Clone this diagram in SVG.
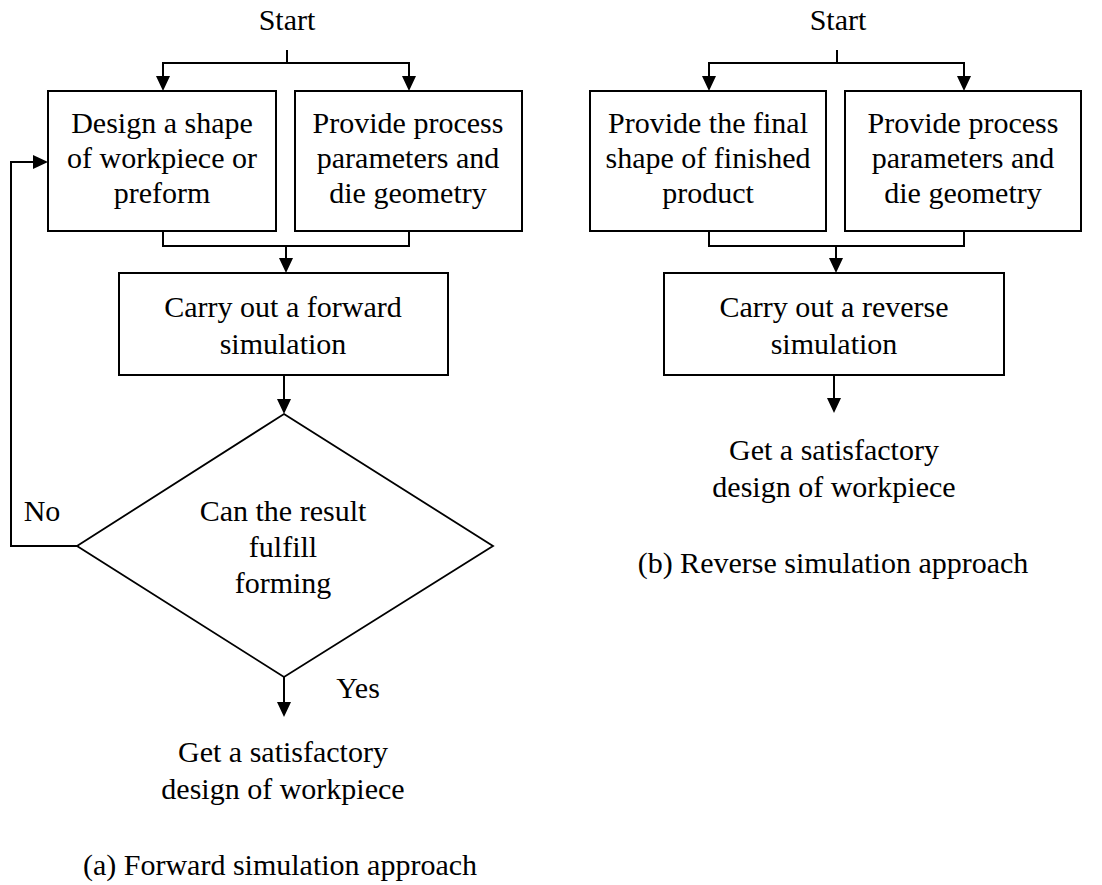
<svg xmlns="http://www.w3.org/2000/svg" width="1102" height="885" viewBox="0 0 1102 885">
  <style>
    .box { fill: #fff; stroke: #000; stroke-width: 2; }
    .dia { fill: #fff; stroke: #000; stroke-width: 1.8; }
    .wire { fill: none; stroke: #000; stroke-width: 2; }
    .tip { fill: #000; }
  </style>
  <defs>
    <!-- downward arrowhead, tip at the origin -->
    <path id="ah" d="M-7,-15 L7,-15 L0,0 Z"/>
  </defs>
  <rect width="1102" height="885" fill="#fff"/>

  <!-- connectors -->
  <g id="connectors">
    <!-- (a) forward approach -->
    <line class="wire" x1="287" y1="50" x2="287" y2="63"/>
    <polyline class="wire" points="163,80 163,63 409,63 409,80"/>
    <use class="tip" href="#ah" x="163" y="91"/>
    <use class="tip" href="#ah" x="409" y="91"/>
    <polyline class="wire" points="163,231 163,246 409,246 409,231"/>
    <line class="wire" x1="286" y1="246" x2="286" y2="262"/>
    <use class="tip" href="#ah" x="286" y="273"/>
    <line class="wire" x1="284" y1="375" x2="284" y2="403"/>
    <use class="tip" href="#ah" x="284" y="414"/>
    <line class="wire" x1="284" y1="677" x2="284" y2="706"/>
    <use class="tip" href="#ah" x="284" y="717"/>
    <polyline class="wire" points="77,546 11,546 11,162 37,162"/>
    <use class="tip" href="#ah" transform="translate(48,162) rotate(-90)"/>
    <!-- (b) reverse approach -->
    <line class="wire" x1="837" y1="50" x2="837" y2="63"/>
    <polyline class="wire" points="709,80 709,63 964,63 964,80"/>
    <use class="tip" href="#ah" x="709" y="91"/>
    <use class="tip" href="#ah" x="964" y="91"/>
    <polyline class="wire" points="709,231 709,246 964,246 964,231"/>
    <line class="wire" x1="836" y1="246" x2="836" y2="262"/>
    <use class="tip" href="#ah" x="836" y="273"/>
    <line class="wire" x1="834" y1="375" x2="834" y2="402"/>
    <use class="tip" href="#ah" x="834" y="413"/>
  </g>

  <!-- (a) forward simulation approach -->
  <g id="start-a"><text x="287" y="30" font-family="Liberation Serif" font-size="30" text-anchor="middle">Start</text></g>
  <g id="design-shape">
    <rect class="box" x="48" y="91" width="228" height="140"/>
    <text x="162" y="133" font-family="Liberation Serif" font-size="30" text-anchor="middle">Design a shape</text>
    <text x="162" y="168" font-family="Liberation Serif" font-size="30" text-anchor="middle">of workpiece or</text>
    <text x="162" y="203" font-family="Liberation Serif" font-size="30" text-anchor="middle">preform</text>
  </g>
  <g id="params-a">
    <rect class="box" x="295" y="91" width="227" height="140"/>
    <text x="408" y="133" font-family="Liberation Serif" font-size="30" text-anchor="middle">Provide process</text>
    <text x="408" y="168" font-family="Liberation Serif" font-size="30" text-anchor="middle">parameters and</text>
    <text x="408" y="203" font-family="Liberation Serif" font-size="30" text-anchor="middle">die geometry</text>
  </g>
  <g id="forward-sim">
    <rect class="box" x="119" y="273" width="329" height="102"/>
    <text x="283" y="317" font-family="Liberation Serif" font-size="30" text-anchor="middle">Carry out a forward</text>
    <text x="283" y="354" font-family="Liberation Serif" font-size="30" text-anchor="middle">simulation</text>
  </g>
  <g id="decision">
    <polygon class="dia" points="284,414 493,546 284,677 77,546"/>
    <text x="283" y="521" font-family="Liberation Serif" font-size="30" text-anchor="middle">Can the result</text>
    <text x="283" y="557" font-family="Liberation Serif" font-size="30" text-anchor="middle">fulfill</text>
    <text x="283" y="593" font-family="Liberation Serif" font-size="30" text-anchor="middle">forming</text>
  </g>
  <g id="label-no"><text x="42" y="521" font-family="Liberation Serif" font-size="30" text-anchor="middle">No</text></g>
  <g id="label-yes"><text x="358" y="698" font-family="Liberation Serif" font-size="30" text-anchor="middle">Yes</text></g>
  <g id="result-a">
    <text x="283" y="762" font-family="Liberation Serif" font-size="30" text-anchor="middle">Get a satisfactory</text>
    <text x="283" y="799" font-family="Liberation Serif" font-size="30" text-anchor="middle">design of workpiece</text>
  </g>
  <g id="caption-a"><text x="280" y="875" font-family="Liberation Serif" font-size="30" text-anchor="middle">(a) Forward simulation approach</text></g>

  <!-- (b) reverse simulation approach -->
  <g id="start-b"><text x="838" y="30" font-family="Liberation Serif" font-size="30" text-anchor="middle">Start</text></g>
  <g id="final-shape">
    <rect class="box" x="590" y="91" width="236" height="140"/>
    <text x="708" y="133" font-family="Liberation Serif" font-size="30" text-anchor="middle">Provide the final</text>
    <text x="708" y="168" font-family="Liberation Serif" font-size="30" text-anchor="middle">shape of finished</text>
    <text x="708" y="203" font-family="Liberation Serif" font-size="30" text-anchor="middle">product</text>
  </g>
  <g id="params-b">
    <rect class="box" x="845" y="91" width="236" height="140"/>
    <text x="963" y="133" font-family="Liberation Serif" font-size="30" text-anchor="middle">Provide process</text>
    <text x="963" y="168" font-family="Liberation Serif" font-size="30" text-anchor="middle">parameters and</text>
    <text x="963" y="203" font-family="Liberation Serif" font-size="30" text-anchor="middle">die geometry</text>
  </g>
  <g id="reverse-sim">
    <rect class="box" x="664" y="273" width="340" height="102"/>
    <text x="834" y="317" font-family="Liberation Serif" font-size="30" text-anchor="middle">Carry out a reverse</text>
    <text x="834" y="354" font-family="Liberation Serif" font-size="30" text-anchor="middle">simulation</text>
  </g>
  <g id="result-b">
    <text x="834" y="460" font-family="Liberation Serif" font-size="30" text-anchor="middle">Get a satisfactory</text>
    <text x="834" y="497" font-family="Liberation Serif" font-size="30" text-anchor="middle">design of workpiece</text>
  </g>
  <g id="caption-b"><text x="833" y="573" font-family="Liberation Serif" font-size="30" text-anchor="middle">(b) Reverse simulation approach</text></g>
</svg>
